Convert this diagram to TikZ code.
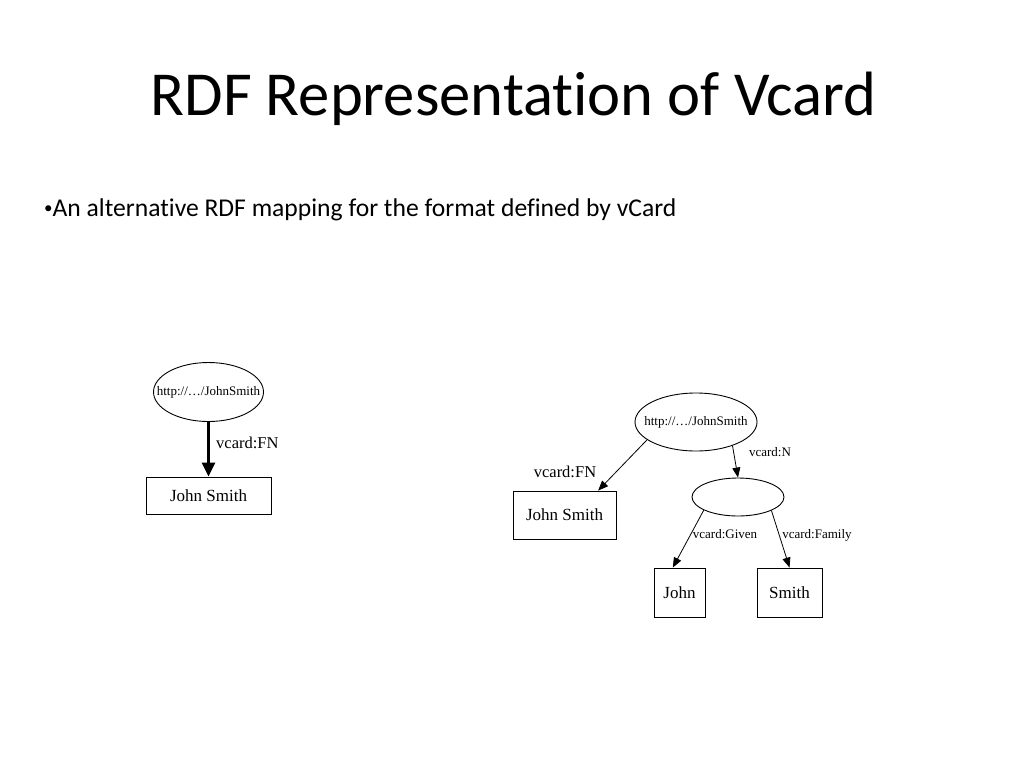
\documentclass[tikz,border=0pt]{standalone}
\usepackage{fontspec}
\setmainfont{Carlito}[Ligatures={NoCommon}]
\newfontfamily\graphfont{Liberation Serif}
\usepackage{tikz}
\usetikzlibrary{arrows.meta}
\usetikzlibrary{shapes.geometric}

\begin{document}
\begin{tikzpicture}[x=1pt,y=-1pt,
        res/.style={draw,ellipse,line width=0.9pt,inner sep=0pt,font={\graphfont\fontsize{13}{13}\selectfont}},
        lit/.style={draw,rectangle,line width=0.9pt,inner sep=0pt,font={\graphfont\fontsize{17}{17}\selectfont}},
        biglbl/.style={inner sep=0pt,font={\graphfont\fontsize{16.5}{17}\selectfont}},
        smalllbl/.style={inner sep=0pt,anchor=base,font={\graphfont\fontsize{13}{13}\selectfont}},
        arc/.style={line width=0.8pt,-{Triangle[length=10pt,width=8pt]}}]
        \fill[white] (0,0) rectangle (1024,768);
        \useasboundingbox (0,0) rectangle (1024,768);

        % Titre
        \node[anchor=base,inner sep=0pt,font={\fontsize{62.6}{70}\selectfont}] (title) at (513.5,115) {RDF Representation of Vcard};
        \node[anchor=base west,inner sep=0pt,font={\fontsize{25.6}{30}\selectfont}] (bullet) at (44,216.7) {\raisebox{3pt}{\fontsize{17}{17}\selectfont •}An alternative RDF mapping for the format defined by vCard};

        % Graphe simple
        \node[res,minimum width=110pt,minimum height=59pt] (uri) at (208.5,392) {\makebox[0pt]{http://…/JohnSmith}};
        \node[lit,minimum width=125pt,minimum height=37pt] (fn) at (208.5,495.5) {John Smith};
        \draw[line width=2.8pt,-{Triangle[length=14pt,width=13pt]}] (uri.south) -- (fn.north);
        \node[biglbl,anchor=west] (fnlbl) at (216,443) {vcard:FN};

        % Graphe avec le nom structure
        \node[res,minimum width=122pt,minimum height=58pt] (uriN) at (696,422) {\makebox[0pt]{http://…/JohnSmith}};
        \node[res,minimum width=92pt,minimum height=38pt] (name) at (738,497) {};
        \node[lit,minimum width=103pt,minimum height=48pt] (fnN) at (564.5,515) {John Smith};
        \node[lit,minimum width=51pt,minimum height=49pt] (given) at (679.5,592.5) {John};
        \node[lit,minimum width=65pt,minimum height=49pt] (family) at (789.5,592.5) {Smith};

        \draw[arc] (uriN.200) -- (fnN.36);
        \draw[arc] (uriN.327) -- (name.north);
        \draw[arc] (name.201) -- (given.105);
        \draw[arc] (name.338) -- (family.north);

        \node[biglbl] (fnNlbl) at (565,472) {vcard:FN};
        \node[smalllbl] (nlbl) at (770,456.5) {vcard:N};
        \node[smalllbl] (givenlbl) at (725,538.5) {vcard:Given};
        \node[smalllbl] (familylbl) at (817,538.5) {vcard:Family};
\end{tikzpicture}
\end{document}
